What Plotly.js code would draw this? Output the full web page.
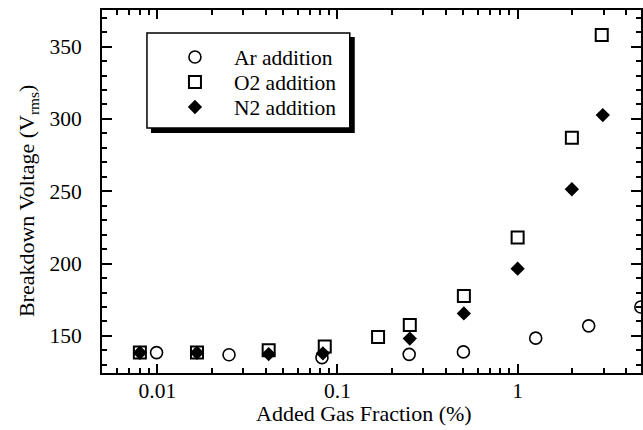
<!DOCTYPE html>
<html>
<head>
<meta charset="utf-8">
<script src="https://cdn.plot.ly/plotly-3.0.1.min.js"></script>
<style>
  html, body { margin: 0; padding: 0; background: #fff; }
  #chart { width: 643px; height: 430px; }
</style>
</head>
<body>
<div id="chart"></div>
<script>
// ---- data ----
const seriesNames = ["Ar addition", "O2 addition", "N2 addition"];

const arX = [0.0099, 0.025, 0.082, 0.25, 0.5, 1.26, 2.48, 4.83];
const arV = [138.5, 137, 135, 137.3, 139, 148.5, 157, 170];

const o2X = [0.008, 0.0166, 0.0415, 0.085, 0.168, 0.252, 0.503, 1.0, 2.0, 2.93];
const o2V = [138.6, 138.6, 140.2, 142.8, 149.3, 157.5, 177.7, 218, 287, 358];

const n2X = [0.008, 0.0166, 0.0415, 0.083, 0.252, 0.503, 1.0, 2.0, 2.97];
const n2V = [138.4, 138.4, 137.5, 138, 148.2, 165.6, 196.5, 251.4, 302.7];

// ---- axis ticks / titles ----
const xTickVals = [0.01, 0.1, 1];
const xTickText = ["0.01", "0.1", "1"];
const xMinorVals = [0.006, 0.007, 0.008, 0.009, 0.02, 0.03, 0.04, 0.05, 0.06, 0.07, 0.08, 0.09,
                    0.2, 0.3, 0.4, 0.5, 0.6, 0.7, 0.8, 0.9, 2, 3, 4];
const yTickVals = [150, 200, 250, 300, 350];
const xTitle = "Added Gas Fraction (%)";
const yTitle = "Breakdown Voltage (V<sub>rms</sub>)";

const serif = "Liberation Serif";

// plot-area pixel geometry (used only for placing the legend box / titles)
const PL = 102, PR = 641.5, PT = 10, PB = 373;
const px = v => (v - PL) / (PR - PL);
const py = v => (PB - v) / (PB - PT);

const common = {type: "scatter", mode: "markers", cliponaxis: false};
const traces = [
  Object.assign({}, common, {
    name: seriesNames[0], x: arX, y: arV, legend: "legend",
    marker: {symbol: "circle-open", size: 12, color: "#000", line: {width: 1.6, color: "#000"}}
  }),
  Object.assign({}, common, {
    name: seriesNames[1], x: o2X, y: o2V, legend: "legend2",
    marker: {symbol: "square-open", size: 12, color: "#000", line: {width: 2, color: "#000"}}
  }),
  Object.assign({}, common, {
    name: seriesNames[2], x: n2X, y: n2V, legend: "legend3",
    marker: {symbol: "diamond", size: 11, color: "#000", line: {width: 0}}
  })
];

function legendAt(rowY) {
  return {
    x: px(156), y: py(rowY), xanchor: "left", yanchor: "middle",
    bgcolor: "rgba(0,0,0,0)", borderwidth: 0,
    font: {family: serif, size: 21.5, color: "#000"},
    itemwidth: 68, tracegroupgap: 0
  };
}

const layout = {
  width: 643, height: 430,
  margin: {l: PL, r: 643 - PR, t: PT, b: 430 - PB},
  paper_bgcolor: "#fff", plot_bgcolor: "#fff",
  font: {family: serif, color: "#000", size: 21.5},
  showlegend: true,
  legend: legendAt(57),
  legend2: legendAt(82),
  legend3: legendAt(107),
  xaxis: {
    type: "log",
    range: [Math.log10(0.00493), Math.log10(4.84)],
    tickmode: "array", tickvals: xTickVals, ticktext: xTickText,
    ticks: "inside", ticklen: 9, tickwidth: 2, tickcolor: "#000",
    minor: {tickmode: "array", tickvals: xMinorVals, ticks: "inside", ticklen: 5, tickwidth: 2, tickcolor: "#000"},
    showline: true, linewidth: 2, linecolor: "#000", mirror: "ticks",
    showgrid: false, zeroline: false,
    tickfont: {family: serif, size: 21.5},
    ticklabelstandoff: -3
  },
  yaxis: {
    range: [124.4, 375.3],
    tickmode: "array", tickvals: yTickVals,
    ticks: "inside", ticklen: 10, tickwidth: 2, tickcolor: "#000",
    minor: {dtick: 10, ticks: "inside", ticklen: 5, tickwidth: 2, tickcolor: "#000"},
    showline: true, linewidth: 2, linecolor: "#000", mirror: "ticks",
    showgrid: false, zeroline: false,
    tickfont: {family: serif, size: 21.5},
    ticklabelstandoff: 14
  },
  annotations: [
    {text: xTitle, xref: "paper", yref: "paper", x: px(364), y: py(414),
     xanchor: "center", yanchor: "middle", showarrow: false,
     font: {family: serif, size: 22, color: "#000"}},
    {text: yTitle, xref: "paper", yref: "paper", x: px(28), y: py(201),
     xanchor: "center", yanchor: "middle", showarrow: false, textangle: -90,
     font: {family: serif, size: 22, color: "#000"}}
  ],
  shapes: [
    // legend drop shadow
    {type: "rect", xref: "paper", yref: "paper", layer: "above",
     x0: px(151), x1: px(355), y0: py(133), y1: py(37),
     fillcolor: "#000", line: {width: 0}},
    // legend box
    {type: "rect", xref: "paper", yref: "paper", layer: "above",
     x0: px(147), x1: px(350), y0: py(128), y1: py(33),
     fillcolor: "#fff", line: {width: 1.5, color: "#000"}}
  ]
};

Plotly.newPlot("chart", traces, layout, {displayModeBar: false, staticPlot: true});
</script>
</body>
</html>
